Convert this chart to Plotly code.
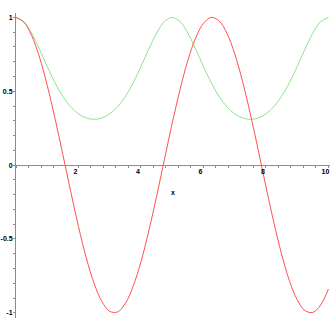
import plotly.graph_objects as go

# sample positions along x
x_vals = [i * 0.25 for i in range(41)]

# red curve values
red_vals = [1.000, 0.969, 0.878, 0.732, 0.540, 0.315, 0.071, -0.178, -0.416, -0.628,
            -0.801, -0.924, -0.990, -0.994, -0.936, -0.820, -0.654, -0.446, -0.211, 0.038,
            0.284, 0.512, 0.709, 0.861, 0.960, 1.000, 0.977, 0.893, 0.754, 0.568,
            0.347, 0.105, -0.146, -0.386, -0.602, -0.782, -0.911, -0.985, -0.997, -0.947,
            -0.839]

# green curve values
green_vals = [1.000, 0.972, 0.894, 0.786, 0.668, 0.557, 0.465, 0.395, 0.347, 0.319,
              0.310, 0.319, 0.347, 0.395, 0.465, 0.557, 0.668, 0.786, 0.894, 0.972,
              1.000, 0.972, 0.894, 0.786, 0.668, 0.557, 0.465, 0.395, 0.347, 0.319,
              0.310, 0.319, 0.347, 0.395, 0.465, 0.557, 0.668, 0.786, 0.894, 0.972,
              1.000]

x_ticks = [2, 4, 6, 8, 10]
x_tick_text = ["2", "4", "6", "8", "10"]
y_ticks = [-1, -0.5, 0, 0.5, 1]
y_tick_text = ["-1", "-0.5", "0", "0.5", "1"]

AXIS = "#8c8c8c"
tickfont = dict(family="Liberation Sans, Arial, sans-serif", size=7, color="#000000", weight="bold")

fig = go.Figure()
fig.add_trace(go.Scatter(x=x_vals, y=green_vals, mode="lines",
                         line=dict(color="#8fe48f", width=1, shape="spline"),
                         showlegend=False, hoverinfo="skip"))
fig.add_trace(go.Scatter(x=x_vals, y=red_vals, mode="lines",
                         line=dict(color="#ff5050", width=1, shape="spline"),
                         showlegend=False, hoverinfo="skip"))

y_lo, y_hi = -1.035, 1.03
fig.update_layout(
    width=330, height=330,
    margin=dict(l=16, r=0, t=13, b=12, pad=0),
    paper_bgcolor="white", plot_bgcolor="white",
    xaxis=dict(
        range=[0, 10.05], anchor="free", position=(0 - y_lo) / (y_hi - y_lo),
        showline=True, linecolor=AXIS, linewidth=1,
        showgrid=False, zeroline=False,
        tickmode="array", tickvals=x_ticks, ticktext=x_tick_text,
        ticks="outside", ticklen=2, tickcolor=AXIS, tickwidth=1,
        minor=dict(dtick=0.4, tick0=0, ticks="outside", ticklen=2, tickcolor=AXIS),
        tickfont=tickfont, automargin=False, ticklabeloverflow="allow",
        ticklabelstandoff=-3, ticklabelshift=-3,
        title=dict(text="x", font=tickfont, standoff=16),
    ),
    yaxis=dict(
        range=[y_lo, y_hi],
        showline=True, linecolor=AXIS, linewidth=1,
        showgrid=False, zeroline=False,
        tickmode="array", tickvals=y_ticks, ticktext=y_tick_text,
        ticks="outside", ticklen=2, tickcolor=AXIS, tickwidth=1,
        minor=dict(dtick=0.1, tick0=0, ticks="outside", ticklen=2, tickcolor=AXIS),
        tickfont=tickfont, automargin=False, ticklabeloverflow="allow",
        ticklabelstandoff=-1,
    ),
)

fig.write_html("out.html")
